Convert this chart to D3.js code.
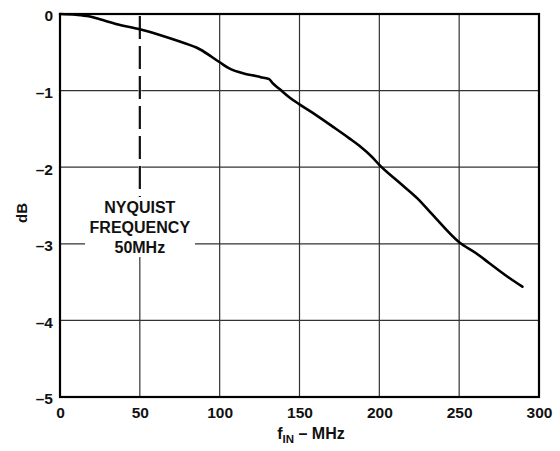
<!DOCTYPE html>
<html>
<head>
<meta charset="utf-8">
<script src="https://cdn.jsdelivr.net/npm/d3@7"></script>
<style>
  html, body { margin: 0; padding: 0; background: #fff; }
  text { font-family: "Liberation Sans", Arial, Helvetica, sans-serif; font-weight: bold; fill: #111; }
</style>
</head>
<body>
<svg id="chart" width="560" height="451"></svg>
<script>
const freqMHz = [0, 10, 18, 25, 35, 50, 62, 75, 87.5, 100, 106, 115.6, 125, 126.7, 131, 133, 137.5, 143.75, 150, 160.4, 170.8, 181, 187.5, 195.6, 200, 212.5, 224, 233.3, 250, 260.4, 268.75, 279, 289.6];
const gainDB  = [0, -0.01, -0.03, -0.07, -0.13, -0.2, -0.27, -0.36, -0.46, -0.63, -0.71, -0.78, -0.82, -0.83, -0.85, -0.9, -0.98, -1.09, -1.18, -1.32, -1.47, -1.62, -1.72, -1.87, -1.97, -2.2, -2.41, -2.62, -2.98, -3.12, -3.25, -3.41, -3.56];
const xTicks = [0, 50, 100, 150, 200, 250, 300];
const yTicks = [0, -1, -2, -3, -4, -5];
const nyquistLines = ["NYQUIST", "FREQUENCY", "50MHz"];
const nyquistFreq = 50;

const svg = d3.select("#chart");
const x = d3.scaleLinear().domain([0, 300]).range([60, 539]);
const y = d3.scaleLinear().domain([0, -5]).range([14, 397]);

// gridlines
const grid = svg.append("g");
grid.selectAll("line.v").data(xTicks.slice(1, -1)).join("line")
  .attr("x1", d => x(d)).attr("x2", d => x(d))
  .attr("y1", y(0)).attr("y2", y(-5))
  .attr("stroke", "#333").attr("stroke-width", 1.2);
grid.selectAll("line.h").data(yTicks.slice(1, -1)).join("line")
  .attr("x1", x(0)).attr("x2", x(300))
  .attr("y1", d => y(d)).attr("y2", d => y(d))
  .attr("stroke", "#333").attr("stroke-width", 1.2);

// white box behind annotation
svg.append("rect").attr("x", 85).attr("y", 197).attr("width", 110).attr("height", 60).attr("fill", "#fff");
// white out upper gridline at 50, then dashed
svg.append("line").attr("x1", x(nyquistFreq)).attr("x2", x(nyquistFreq))
  .attr("y1", y(0)).attr("y2", 197).attr("stroke", "#fff").attr("stroke-width", 3);
svg.append("line").attr("x1", x(nyquistFreq)).attr("x2", x(nyquistFreq))
  .attr("y1", y(0) + 2).attr("y2", 197).attr("stroke", "#111").attr("stroke-width", 2.2)
  .attr("stroke-dasharray", "23,7");

// annotation text
svg.append("g").selectAll("text").data(nyquistLines).join("text")
  .attr("x", x(nyquistFreq)).attr("y", (d, i) => 213 + i * 20)
  .attr("text-anchor", "middle").attr("font-size", 16)
  .text(d => d);

// curve
const line = d3.line().x((d, i) => x(freqMHz[i])).y(d => y(d)).curve(d3.curveMonotoneX);
svg.append("path").datum(gainDB).attr("d", line)
  .attr("fill", "none").attr("stroke", "#000").attr("stroke-width", 2.6)
  .attr("stroke-linejoin", "round").attr("stroke-linecap", "round");

// frame
svg.append("rect").attr("x", x(0)).attr("y", y(0))
  .attr("width", x(300) - x(0)).attr("height", y(-5) - y(0))
  .attr("fill", "none").attr("stroke", "#000").attr("stroke-width", 2.2);

// axes labels via d3 axes
const xAxis = d3.axisBottom(x).tickValues(xTicks).tickSize(0).tickPadding(10).tickFormat(d3.format("d"));
const gx = svg.append("g").attr("transform", `translate(0,${y(-5)})`).call(xAxis);
gx.select(".domain").remove();
gx.selectAll("text").attr("font-size", 15.5).attr("fill", "#111").attr("font-family", null).attr("dy", "0.71em");

const yAxis = d3.axisLeft(y).tickValues(yTicks).tickSize(0).tickPadding(7)
  .tickFormat(d => d === 0 ? "0" : "–" + Math.abs(d));
const gy = svg.append("g").attr("transform", `translate(${x(0)},0)`).call(yAxis);
gy.select(".domain").remove();
gy.selectAll("text").attr("font-size", 15.5).attr("fill", "#111").attr("font-family", null).attr("dy", "0.45em");

// axis titles
svg.append("text").attr("transform", "translate(27,213) rotate(-90)")
  .attr("text-anchor", "middle").attr("font-size", 15).text("dB");
const xt = svg.append("text").attr("x", 311).attr("y", 439).attr("text-anchor", "middle").attr("font-size", 16);
xt.append("tspan").text("f");
xt.append("tspan").attr("font-size", 11.5).attr("dy", 4).text("IN");
xt.append("tspan").attr("dy", -4).text(" – MHz");
</script>
</body>
</html>
